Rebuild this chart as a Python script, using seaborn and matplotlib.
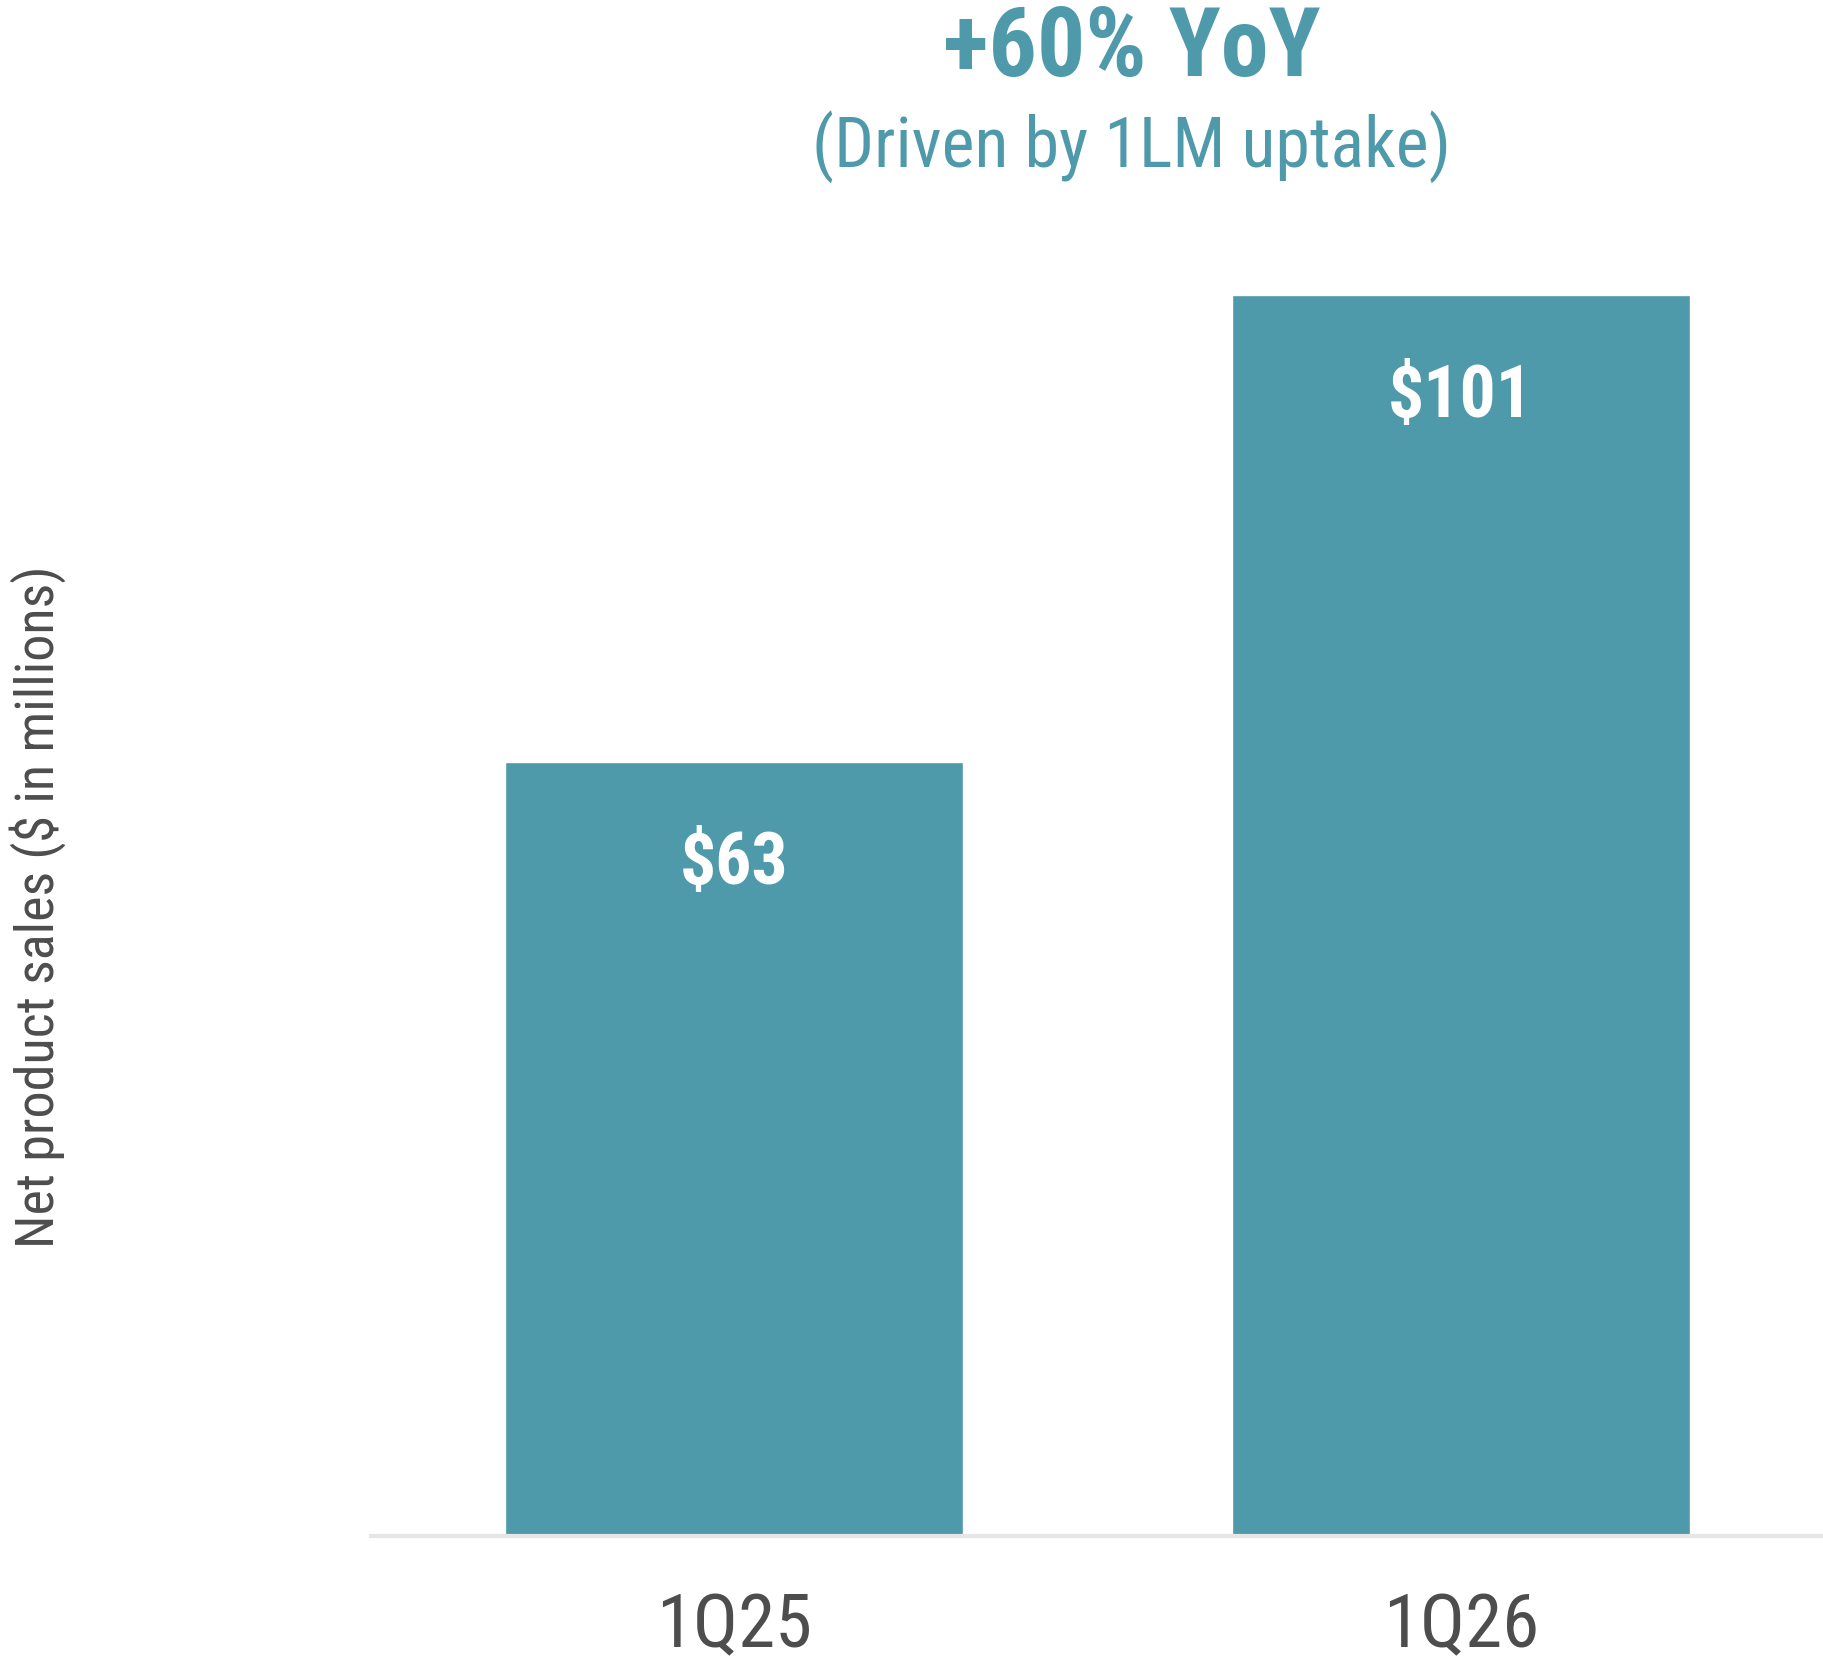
import matplotlib
matplotlib.use("Agg")
import matplotlib.pyplot as plt
import seaborn as sns
import pandas as pd

quarters = ["1Q25", "1Q26"]
sales = [63, 101]
value_labels = [r"\$63", r"\$101"]
headline = "+60% YoY"
subhead = "(Driven by 1LM uptake)"
ylabel = r"Net product sales (\$ in millions)"

TEAL = "#4E9AAB"
GREY_TXT = "#4D4D4D"
W, H = 1824, 1662

sns.set_theme(style="white")
plt.rcParams["font.family"] = ["Roboto Condensed", "DejaVu Sans"]

df = pd.DataFrame({"quarter": quarters, "sales": sales})

fig = plt.figure(figsize=(W / 100, H / 100), dpi=100)
ax = fig.add_axes([371 / W, (H - 1536) / H, 1 - 371 / W, 1536 / H])

sns.barplot(data=df, x="quarter", y="sales", color=TEAL, saturation=1,
            width=0.63, ax=ax)

ax.set_xlim(-0.5, 1.5)
ax.set_ylim(0, 125)
ax.set_xlabel("")
ax.set_ylabel("")
ax.set_yticks([])
for side in ["left", "right", "top"]:
    ax.spines[side].set_visible(False)
ax.spines["bottom"].set_color("#E6E6E6")
ax.spines["bottom"].set_linewidth(3)
ax.tick_params(axis="x", length=0, pad=40, labelsize=54, labelcolor=GREY_TXT)

# value labels sit inside the top of each bar
for i, (v, lab) in enumerate(zip(sales, value_labels)):
    ax.annotate(lab, xy=(i, v), xytext=(0, -88), textcoords="offset points",
                ha="center", va="baseline", color="white", fontsize=51.5,
                fontweight="bold")

fig.text(1132 / W, 1 - 76 / H, headline, ha="center", va="baseline",
         color=TEAL, fontsize=69, fontweight="bold")
fig.text(1132 / W, 1 - 167 / H, subhead, ha="center", va="baseline",
         color=TEAL, fontsize=50.5)
fig.text(38 / W, 1 - 907 / H, ylabel, ha="center", va="center",
         rotation=90, color=GREY_TXT, fontsize=39)

fig.savefig("out.png", dpi=100, facecolor="white")
